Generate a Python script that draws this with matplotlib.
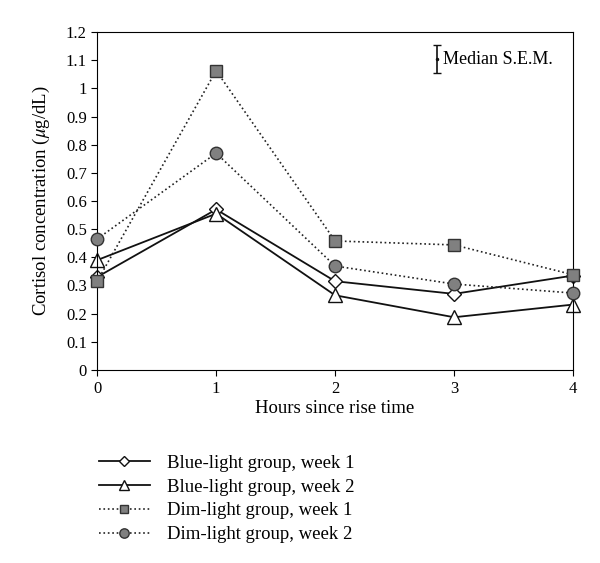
import matplotlib
matplotlib.use('Agg')
from matplotlib import pyplot as plt
from matplotlib.ticker import FuncFormatter

hours = [0, 1, 2, 3, 4]
blue_week1 = [0.33, 0.57, 0.315, 0.27, 0.335]
blue_week2 = [0.39, 0.555, 0.265, 0.187, 0.232]
dim_week1 = [0.315, 1.063, 0.458, 0.444, 0.338]
dim_week2 = [0.465, 0.77, 0.369, 0.305, 0.273]
sem_x, sem_y, sem_err = 2.86, 1.104, 0.05

plt.rcParams['font.family'] = ['Liberation Serif', 'DejaVu Serif']
plt.rcParams['mathtext.fontset'] = 'stix'

fig = plt.figure(figsize=(6, 5.63), dpi=100)
ax = fig.add_axes([0.162, 0.343, 0.793, 0.600])

ax.plot(hours, dim_week1, ':', color='#222222', lw=1.2, marker='s', ms=8.5,
        mfc='#808080', mec='#333333', mew=1, label='Dim-light group, week 1',
        zorder=3, clip_on=False)
ax.plot(hours, dim_week2, ':', color='#222222', lw=1.2, marker='o', ms=9,
        mfc='#808080', mec='#333333', mew=1, label='Dim-light group, week 2',
        zorder=3, clip_on=False)
ax.plot(hours, blue_week1, '-', color='#111111', lw=1.3, marker='D', ms=7,
        mfc='white', mec='#111111', mew=1, label='Blue-light group, week 1',
        zorder=2, clip_on=False)
ax.plot(hours, blue_week2, '-', color='#111111', lw=1.3, marker='^', ms=9.5,
        mfc='white', mec='#111111', mew=1, label='Blue-light group, week 2',
        zorder=2, clip_on=False)

ax.errorbar([sem_x], [sem_y], yerr=[sem_err], fmt='.', color='#111111',
            ms=3, capsize=3, lw=1.2)
ax.text(sem_x + 0.05, sem_y, 'Median S.E.M.', va='center', ha='left', fontsize=13)

ax.set_xlim(0, 4)
ax.set_ylim(0, 1.2)
ax.set_xticks(hours)
ax.set_yticks([i / 10 for i in range(13)])
ax.yaxis.set_major_formatter(FuncFormatter(lambda v, p: f'{v:g}'))
ax.tick_params(direction='out', labelsize=12, length=4)
ax.tick_params(axis='x', pad=4)
ax.set_xlabel('Hours since rise time', fontsize=13.5, labelpad=2)
ax.set_ylabel(r'Cortisol concentration ($\mu$g/dL)', fontsize=13.5, labelpad=10)

h, l = ax.get_legend_handles_labels()
order = [2, 3, 0, 1]
fig.legend([h[i] for i in order], [l[i] for i in order], loc='upper left',
           bbox_to_anchor=(0.137, 0.222), frameon=False, fontsize=13.5,
           handlelength=2.7, handletextpad=0.9, labelspacing=0.35,
           markerscale=0.75)

fig.savefig('out.png', dpi=100)
